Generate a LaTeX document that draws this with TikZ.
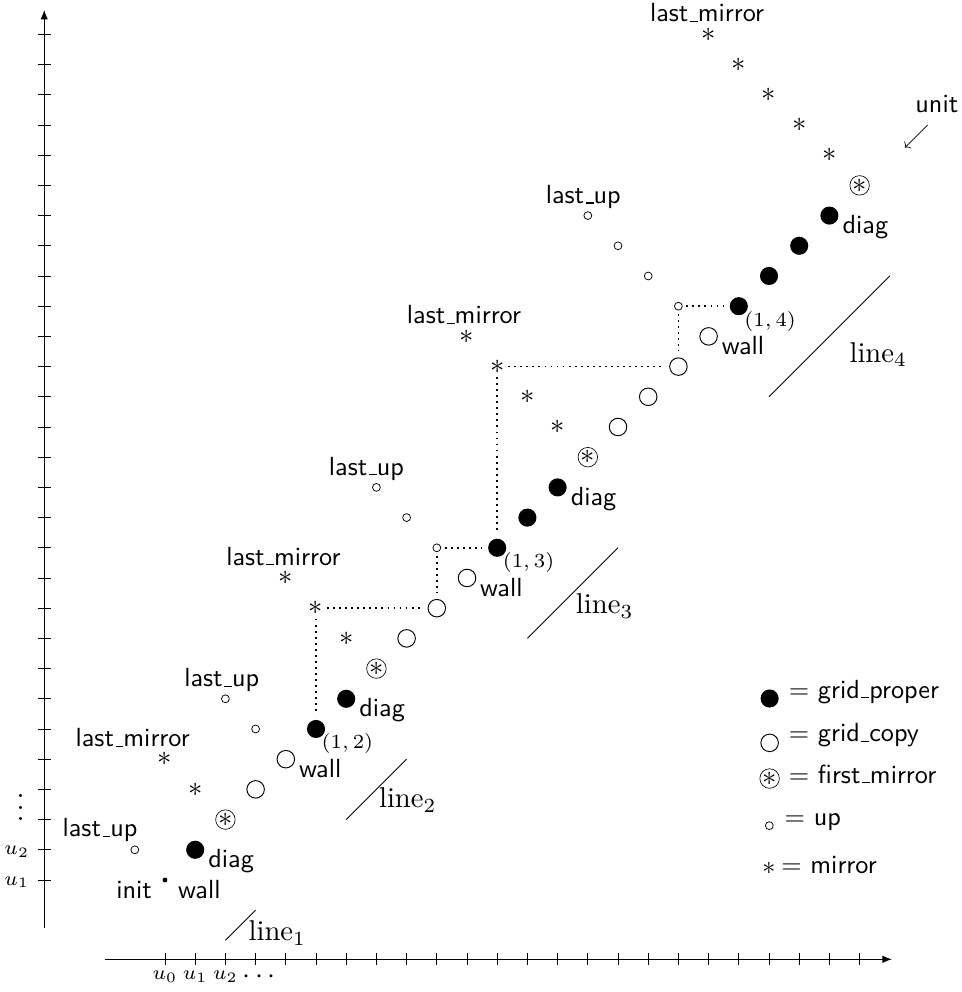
\documentclass[tikz,border=0pt]{standalone}
\usepackage{graphicx}
\usetikzlibrary{arrows.meta}
\newcommand\sfl[1]{\scalebox{2.47}{\normalsize\sffamily #1}}
\newcommand\rml[1]{\scalebox{2.7}{\normalsize #1}}
\newcommand\usc{\leavevmode\kern.06em\vbox{\hrule width.3em}}
\begin{document}
\begin{tikzpicture}[x=1cm,y=1cm,
  gp/.style={circle,fill=black,minimum size=0.6cm,inner sep=0pt},
  gc/.style={circle,draw,line width=0.9pt,minimum size=0.58cm,inner sep=0pt},
  fm/.style={circle,draw,line width=0.6pt,minimum size=0.64cm,inner sep=0pt},
  upc/.style={circle,draw,line width=0.7pt,minimum size=0.26cm,inner sep=0pt},
  mir/.style={inner sep=0pt},
  lbl/.style={inner sep=0pt},
  dotl/.style={line width=1.7pt,dash pattern=on 1.7pt off 4.0pt,shorten <=0.12cm,shorten >=0.2cm},
  ax/.style={line width=0.9pt,-{Latex[length=9pt,width=7pt]}},
  tk/.style={line width=0.7pt},
  sepl/.style={line width=0.9pt}
]
\useasboundingbox (-5.464,-2.709) rectangle (26.358,30.139);

% axes
\coordinate (xa0) at (-2,-1.626);
\coordinate (xa1) at (24.07,-1.626);
\coordinate (ya0) at (-4,-0.59);
\coordinate (ya1) at (-4,29.81);
\draw[ax] (xa0) -- (xa1);
\draw[ax] (ya0) -- (ya1);
\foreach \i in {0,...,23} \draw[tk] (\i,-1.426) -- (\i,-1.826);
\foreach \j in {1,...,29} \draw[tk] (-4.22,\j) -- (-3.78,\j);
\node[lbl,anchor=base] (xu0) at (0,-2.31) {\rml{\scriptsize$u_0$}};
\node[lbl,anchor=base] (xu1) at (1,-2.31) {\rml{\scriptsize$u_1$}};
\node[lbl,anchor=base] (xu2) at (2,-2.31) {\rml{\scriptsize$u_2$}};
\node[lbl,anchor=base] (xdots) at (3.12,-2.43) {\rml{$\cdots$}};
\node[lbl,anchor=base east] (yu1) at (-4.49,0.83) {\rml{\scriptsize$u_1$}};
\node[lbl,anchor=base east] (yu2) at (-4.49,1.83) {\rml{\scriptsize$u_2$}};
\node[lbl] (ydots) at (-4.78,3.68) {\rml{$\vdots$}};

% level 0
\node[circle,fill=black,minimum size=0.16cm,inner sep=0pt] (init) at (0,1) {};
\node[lbl,anchor=base east] (initl) at (-0.43,0.4) {\sfl{init}};
\node[lbl,anchor=base west] (wall0) at (0.43,0.4) {\sfl{wall}};
\node[upc] (lu1) at (-1,2) {};
\node[lbl,anchor=base] (lul1) at (-2.15,2.43) {\sfl{last\usc up}};
\node[gp] (d1) at (1,2) {};
\node[lbl,anchor=base west] (dl1) at (1.43,1.4) {\sfl{diag}};
\node[fm] (f1) at (2,3) {\rml{$*$}};
\node[mir] (m1a) at (1,4) {\rml{$*$}};
\node[mir] (lm1) at (0,5) {\rml{$*$}};
\node[lbl,anchor=base] (lml1) at (-1.07,5.41) {\sfl{last\usc mirror}};
\node[gc] (c1a) at (3,4) {};
\node[gc] (c1b) at (4,5) {};
\node[lbl,anchor=base west] (wl1) at (4.43,4.4) {\sfl{wall}};
\node[upc] (u1a) at (3,6) {};
\node[upc] (lu2) at (2,7) {};
\node[lbl,anchor=base] (lul2) at (1.88,7.4) {\sfl{last\usc up}};

% level 1
\node[gp] (p12) at (5,6) {};
\node[lbl,anchor=base west] (p12l) at (5.18,5.34) {\rml{\scriptsize$(1,2)$}};
\node[gp] (d2) at (6,7) {};
\node[lbl,anchor=base west] (dl2) at (6.43,6.4) {\sfl{diag}};
\node[fm] (f2) at (7,8) {\rml{$*$}};
\node[mir] (m2a) at (6,9) {\rml{$*$}};
\node[mir] (m2b) at (5,10) {\rml{$*$}};
\node[mir] (lm2) at (4,11) {\rml{$*$}};
\node[lbl,anchor=base] (lml2) at (3.92,11.43) {\sfl{last\usc mirror}};
\node[gc] (c2a) at (8,9) {};
\node[gc] (c2b) at (9,10) {};
\node[gc] (c2c) at (10,11) {};
\node[lbl,anchor=base west] (wl2) at (10.43,10.4) {\sfl{wall}};
\node[upc] (u2a) at (9,12) {};
\node[upc] (u2b) at (8,13) {};
\node[upc] (lu3) at (7,14) {};
\node[lbl,anchor=base] (lul3) at (6.67,14.41) {\sfl{last\usc up}};

% level 2
\node[gp] (p13) at (11,12) {};
\node[lbl,anchor=base west] (p13l) at (11.18,11.34) {\rml{\scriptsize$(1,3)$}};
\node[gp] (g3b) at (12,13) {};
\node[gp] (d3) at (13,14) {};
\node[lbl,anchor=base west] (dl3) at (13.43,13.4) {\sfl{diag}};
\node[fm] (f3) at (14,15) {\rml{$*$}};
\node[mir] (m3a) at (13,16) {\rml{$*$}};
\node[mir] (m3b) at (12,17) {\rml{$*$}};
\node[mir] (m3c) at (11,18) {\rml{$*$}};
\node[mir] (lm3) at (10,19) {\rml{$*$}};
\node[lbl,anchor=base] (lml3) at (9.9,19.42) {\sfl{last\usc mirror}};
\node[gc] (c3a) at (15,16) {};
\node[gc] (c3b) at (16,17) {};
\node[gc] (c3c) at (17,18) {};
\node[gc] (c3d) at (18,19) {};
\node[lbl,anchor=base west] (wl3) at (18.43,18.4) {\sfl{wall}};
\node[upc] (u3a) at (17,20) {};
\node[upc] (u3b) at (16,21) {};
\node[upc] (u3c) at (15,22) {};
\node[upc] (lu4) at (14,23) {};
\node[lbl,anchor=base] (lul4) at (13.85,23.4) {\sfl{last\usc up}};

% level 3
\node[gp] (p14) at (19,20) {};
\node[lbl,anchor=base west] (p14l) at (19.18,19.34) {\rml{\scriptsize$(1,4)$}};
\node[gp] (g4b) at (20,21) {};
\node[gp] (g4c) at (21,22) {};
\node[gp] (d4) at (22,23) {};
\node[lbl,anchor=base west] (dl4) at (22.43,22.4) {\sfl{diag}};
\node[fm] (f4) at (23,24) {\rml{$*$}};
\node[mir] (m4a) at (22,25) {\rml{$*$}};
\node[mir] (m4b) at (21,26) {\rml{$*$}};
\node[mir] (m4c) at (20,27) {\rml{$*$}};
\node[mir] (m4d) at (19,28) {\rml{$*$}};
\node[mir] (lm4) at (18,29) {\rml{$*$}};
\node[lbl,anchor=base] (lml4) at (17.95,29.42) {\sfl{last\usc mirror}};

% dotted connectors
\draw[dotl] (m2b) -- (c2b);
\draw[dotl] (m2b) -- (p12);
\draw[dotl] (u2a) -- (p13);
\draw[dotl] (u2a) -- (c2b);
\draw[dotl] (m3c) -- (c3c);
\draw[dotl] (m3c) -- (p13);
\draw[dotl] (u3a) -- (p14);
\draw[dotl] (u3a) -- (c3c);

% lines
\coordinate (l1a) at (2,-1); \coordinate (l1b) at (3,0);
\coordinate (l2a) at (6,3); \coordinate (l2b) at (8,5);
\coordinate (l3a) at (12,9); \coordinate (l3b) at (15,12);
\coordinate (l4a) at (20,17); \coordinate (l4b) at (24,21);
\draw[sepl] (l1a) -- (l1b);
\draw[sepl] (l2a) -- (l2b);
\draw[sepl] (l3a) -- (l3b);
\draw[sepl] (l4a) -- (l4b);
\node[lbl,anchor=base west] (ll1) at (2.76,-1.02) {\rml{line$_1$}};
\node[lbl,anchor=base west] (ll2) at (7.08,3.39) {\rml{line$_2$}};
\node[lbl,anchor=base west] (ll3) at (13.6,9.81) {\rml{line$_3$}};
\node[lbl,anchor=base west] (ll4) at (22.66,18.15) {\rml{line$_4$}};

% unit
\node[lbl,anchor=base west] (unitl) at (24.84,26.4) {\sfl{unit}};
\coordinate (ua) at (25.25,26.0);
\coordinate (ub) at (24.5,25.25);
\draw[line width=0.6pt,-{To[length=4pt,width=9pt]}] (ua) -- (ub);

% legend
\node[gp] (lg1) at (20.02,7.01) {};
\node[lbl,anchor=base west] (lt1) at (20.65,7.02) {\sfl{$=$ grid\usc proper}};
\node[gc] (lg2) at (20.02,5.54) {};
\node[lbl,anchor=base west] (lt2) at (20.65,5.58) {\sfl{$=$ grid\usc copy}};
\node[fm] (lg3) at (20.02,4.36) {\rml{$*$}};
\node[lbl,anchor=base west] (lt3) at (20.65,4.20) {\sfl{$=$ first\usc mirror}};
\node[upc] (lg4) at (20.01,2.80) {};
\node[lbl,anchor=base west] (lt4) at (20.51,2.82) {\sfl{$=$ up}};
\node[mir] (lg5) at (20.0,1.40) {\sfl{$*$}};
\node[lbl,anchor=base west] (lt5) at (20.4,1.22) {\sfl{$=$ mirror}};
\end{tikzpicture}
\end{document}
